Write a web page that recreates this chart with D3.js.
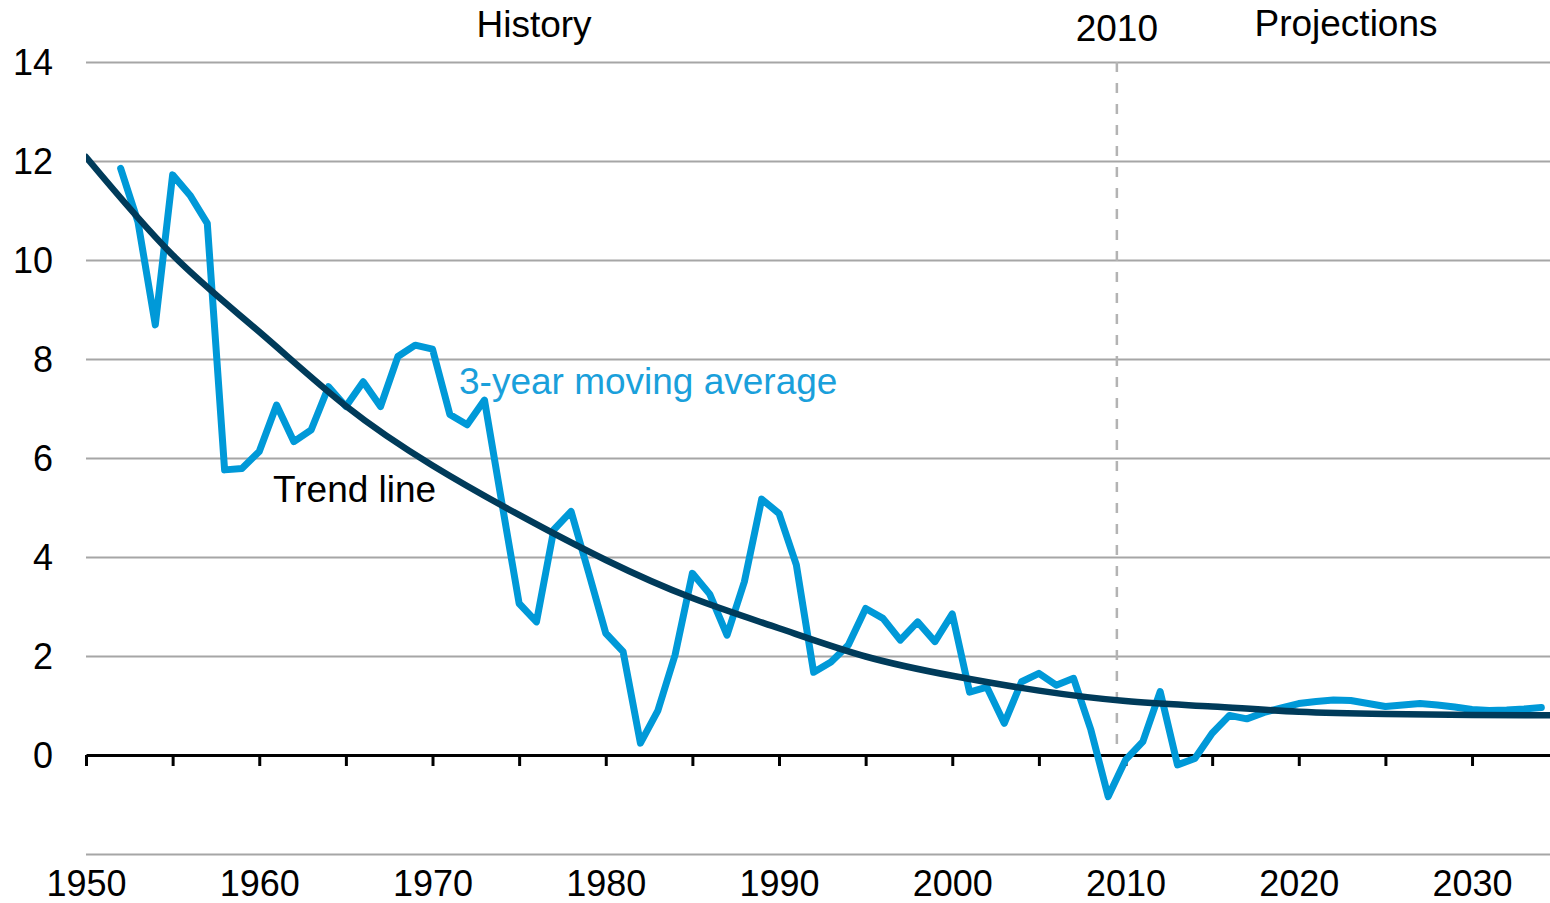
<!DOCTYPE html>
<html>
<head>
<meta charset="utf-8">
<script src="https://cdn.jsdelivr.net/npm/d3@7"></script>
<style>
    body { margin: 0; background: #ffffff; }
    svg text { font-family: "Liberation Sans", Arial, sans-serif; }
</style>
</head>
<body>
<svg id="chart" width="1550" height="903"></svg>
<script>
// 3-year moving average
var avgYears = d3.range(1952, 2035);
var avgValues = [
    11.85, 10.77, 8.69, 11.72, 11.31, 10.74, 5.76, 5.79, 6.13, 7.07,
    6.33, 6.57, 7.44, 7.04, 7.54, 7.04, 8.05, 8.28, 8.20, 6.88,
    6.67, 7.17, 5.10, 3.06, 2.69, 4.55, 4.92, 3.70, 2.46, 2.09,
    0.24, 0.89, 2.02, 3.67, 3.25, 2.42, 3.50, 5.17, 4.88, 3.84,
    1.67, 1.88, 2.22, 2.96, 2.76, 2.32, 2.69, 2.29, 2.85, 1.27,
    1.37, 0.64, 1.48, 1.65, 1.41, 1.55, 0.51, -0.84, -0.10, 0.27,
    1.28, -0.20, -0.07, 0.44, 0.80, 0.73, 0.86, 0.95, 1.04, 1.08,
    1.11, 1.10, 1.04, 0.98, 1.01, 1.04, 1.01, 0.97, 0.92, 0.90,
    0.91, 0.93, 0.96
];

// trend line, sampled every 5 years
var trendYears = d3.range(1950, 2040, 5);
var trendValues = [12.08, 10.10, 8.55, 7.05, 5.85, 4.85, 3.94, 3.17, 2.56,
    1.99, 1.60, 1.30, 1.09, 0.98, 0.875, 0.83, 0.81, 0.80];

var yTicks = [0, 2, 4, 6, 8, 10, 12, 14];
var gridValues = [-2, 2, 4, 6, 8, 10, 12, 14];
var xLabelYears = d3.range(1950, 2031, 10);
var xTickYears = d3.range(1950, 2035, 5);

var historyLabel = "History";
var projectionLabel = "Projections";
var splitYear = 2009.5;

(function () {
    var svg = d3.select("#chart");
    var plotLeft = 86, plotRight = 1550, plotTop = 62, plotBottom = 854;

    var x = d3.scaleLinear().domain([1950, 2034.5]).range([plotLeft, plotRight]);
    var y = d3.scaleLinear().domain([-2, 14]).range([plotBottom, plotTop]);

    svg.append("defs").append("clipPath").attr("id", "plotClip")
        .append("rect")
        .attr("x", plotLeft).attr("y", 0)
        .attr("width", plotRight - plotLeft).attr("height", 903);

    // gridlines
    var grid = svg.append("g")
        .attr("transform", "translate(" + plotLeft + ",0)")
        .call(d3.axisLeft(y).tickValues(gridValues).tickSize(-(plotRight - plotLeft)).tickFormat(""));
    grid.select(".domain").remove();
    grid.selectAll("line").attr("stroke", "#a6a6a6").attr("stroke-width", 2);

    // y labels
    var yAxis = svg.append("g")
        .attr("transform", "translate(53,0)")
        .call(d3.axisLeft(y).tickValues(yTicks).tickSize(0).tickPadding(0));
    yAxis.select(".domain").remove();
    yAxis.selectAll("text")
        .attr("font-size", 36)
        .attr("fill", "#000")
        .attr("dy", "0.36em");

    // split marker
    svg.append("line")
        .attr("x1", x(splitYear)).attr("x2", x(splitYear))
        .attr("y1", y(14)).attr("y2", y(0))
        .attr("stroke", "#b3b3b3")
        .attr("stroke-width", 2.5)
        .attr("stroke-dasharray", "10,11");

    // zero axis with ticks
    var zeroAxis = svg.append("g")
        .attr("transform", "translate(0," + y(0) + ")")
        .call(d3.axisBottom(x).tickValues(xTickYears).tickSize(11).tickFormat("").tickSizeOuter(0));
    zeroAxis.select(".domain").attr("stroke", "#000").attr("stroke-width", 3);
    zeroAxis.selectAll(".tick line").attr("stroke", "#000").attr("stroke-width", 3);

    // x labels
    var xAxis = svg.append("g")
        .attr("transform", "translate(0,869)")
        .call(d3.axisBottom(x).tickValues(xLabelYears)
            .tickSize(0).tickPadding(0).tickFormat(d3.format("d")));
    xAxis.select(".domain").remove();
    xAxis.selectAll("text")
        .attr("font-size", 36)
        .attr("fill", "#000")
        .attr("dy", "0.75em");

    var plot = svg.append("g").attr("clip-path", "url(#plotClip)");

    // moving average
    var avgLine = d3.line()
        .x(function (d, i) { return x(avgYears[i]); })
        .y(function (d) { return y(d); });

    plot.append("path")
        .datum(avgValues)
        .attr("d", avgLine)
        .attr("fill", "none")
        .attr("stroke", "#0099d8")
        .attr("stroke-width", 7)
        .attr("stroke-linejoin", "round")
        .attr("stroke-linecap", "round");

    // trend
    var trendLine = d3.line()
        .curve(d3.curveNatural)
        .x(function (d, i) { return x(trendYears[i]); })
        .y(function (d) { return y(d); });

    plot.append("path")
        .datum(trendValues)
        .attr("d", trendLine)
        .attr("fill", "none")
        .attr("stroke", "#003b5a")
        .attr("stroke-width", 6.5)
        .attr("stroke-linecap", "round");

    // labels
    svg.append("text")
        .attr("x", 534).attr("y", 37)
        .attr("text-anchor", "middle")
        .attr("font-size", 37)
        .text(historyLabel);

    svg.append("text")
        .attr("x", x(splitYear)).attr("y", 41)
        .attr("text-anchor", "middle")
        .attr("font-size", 37)
        .text(String(Math.ceil(splitYear)));

    svg.append("text")
        .attr("x", 1346).attr("y", 36)
        .attr("text-anchor", "middle")
        .attr("font-size", 37)
        .text(projectionLabel);

    svg.append("text")
        .attr("x", 459).attr("y", 394)
        .attr("font-size", 37)
        .attr("fill", "#1aa0db")
        .text("3-year moving average");

    svg.append("text")
        .attr("x", 273).attr("y", 502)
        .attr("font-size", 37)
        .attr("fill", "#000")
        .text("Trend line");
})();
</script>
</body>
</html>
